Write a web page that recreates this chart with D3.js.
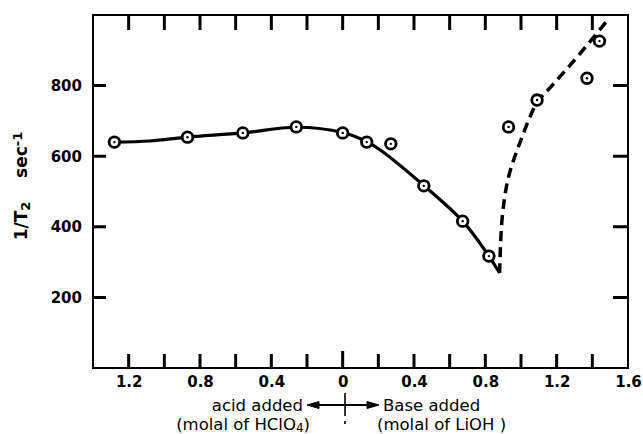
<!DOCTYPE html>
<html>
<head>
<meta charset="utf-8">
<script src="https://cdn.jsdelivr.net/npm/d3@7"></script>
<style>
  body { margin: 0; background: #fff; }
  svg { display: block; }
  .tick text { font-family: "DejaVu Sans", sans-serif; font-weight: bold; font-size: 15px; fill: #000; }
  .note { font-family: "DejaVu Sans", sans-serif; font-size: 16.5px; fill: #000; }
</style>
</head>
<body>
<script>
// measured points (acid side negative, base side positive)
const pointX = [-1.28, -0.87, -0.56, -0.26, 0.0, 0.135, 0.27, 0.455, 0.673, 0.82, 0.93, 1.09, 1.37, 1.44];
const pointY = [640, 654, 666, 683, 666, 640, 635, 516, 416, 317, 683, 759, 821, 926];

// solid drawn curve
const solidX = [-1.28, -1.08, -0.87, -0.56, -0.26, 0.0, 0.135, 0.213, 0.455, 0.673, 0.82, 0.88];
const solidY = [640, 643, 654, 666, 682, 667, 641, 617, 517, 416, 317, 269];

// dashed drawn curve
const dashX = [0.88, 0.895, 0.93, 1.0, 1.088, 1.17, 1.3, 1.48];
const dashY = [269, 428, 541, 646, 750, 798, 872, 982];

const xTicks = [-1.2, -1.0, -0.8, -0.6, -0.4, -0.2, 0, 0.2, 0.4, 0.6, 0.8, 1.0, 1.2, 1.4];
const xLabels = [-1.2, -0.8, -0.4, 0, 0.4, 0.8, 1.2, 1.6];
const yTicks = [200, 400, 600, 800];

const width = 643, height = 434;
const m = { left: 93, right: 628, top: 15, bottom: 368 };

const svg = d3.select('body').append('svg')
  .attr('width', width)
  .attr('height', height)
  .attr('viewBox', `0 0 ${width} ${height}`);

const x = d3.scaleLinear().domain([-1.4, 1.6]).range([m.left, m.right]);
const y = d3.scaleLinear().domain([0, 1000]).range([m.bottom, m.top]);

// axis labels only; tick marks drawn last, pointing inward
svg.append('g')
  .attr('transform', `translate(0,${m.bottom})`)
  .call(d3.axisBottom(x).tickValues(xLabels).tickSize(0).tickPadding(8).tickFormat(d => String(Math.abs(d))))
  .call(g => g.select('.domain').remove());

svg.append('g')
  .attr('transform', `translate(${m.left},0)`)
  .call(d3.axisLeft(y).tickValues(yTicks).tickSize(0).tickPadding(11))
  .call(g => g.select('.domain').remove());

svg.selectAll('g').attr('font-family', null).attr('font-size', null);

// frame
svg.append('rect')
  .attr('x', m.left).attr('y', m.top)
  .attr('width', m.right - m.left).attr('height', m.bottom - m.top)
  .attr('fill', 'none').attr('stroke', '#000').attr('stroke-width', 2);

const line = d3.line()
  .x(d => x(d[0]))
  .y(d => y(d[1]))
  .curve(d3.curveCatmullRom);

svg.append('path')
  .datum(solidX.map((v, i) => [v, solidY[i]]))
  .attr('d', line)
  .attr('fill', 'none')
  .attr('stroke', '#000')
  .attr('stroke-width', 3.2)
  .attr('stroke-linejoin', 'round');

svg.append('path')
  .datum(dashX.map((v, i) => [v, dashY[i]]))
  .attr('d', line)
  .attr('fill', 'none')
  .attr('stroke', '#000')
  .attr('stroke-width', 3.5)
  .attr('stroke-dasharray', '10,6');

// circled points
const pts = svg.append('g')
  .selectAll('g')
  .data(pointX.map((v, i) => [v, pointY[i]]))
  .enter()
  .append('g')
  .attr('transform', d => `translate(${x(d[0])},${y(d[1])})`);

pts.append('circle')
  .attr('r', 5.3)
  .attr('fill', '#fff')
  .attr('stroke', '#000')
  .attr('stroke-width', 2.8);

pts.append('circle')
  .attr('r', 1.2)
  .attr('fill', '#000');

// inward tick marks, on top of everything
const tickPath = d3.path();
xTicks.forEach(d => {
  tickPath.moveTo(x(d), m.bottom);
  tickPath.lineTo(x(d), m.bottom - (d === 0 ? 17 : 14));
  tickPath.moveTo(x(d), m.top);
  tickPath.lineTo(x(d), m.top + 15);
});
yTicks.forEach(d => {
  tickPath.moveTo(m.left, y(d));
  tickPath.lineTo(m.left + 13, y(d));
  tickPath.moveTo(m.right, y(d));
  tickPath.lineTo(m.right - 15, y(d));
});
svg.append('path')
  .attr('d', tickPath.toString())
  .attr('fill', 'none')
  .attr('stroke', '#000')
  .attr('stroke-width', 3);

// y label
svg.append('text')
  .attr('transform', 'translate(27,186) rotate(-90)')
  .attr('text-anchor', 'middle')
  .style('font-family', '"DejaVu Sans", sans-serif')
  .style('font-weight', 'bold')
  .style('font-size', '17px')
  .call(t => {
    t.append('tspan').text('1/T');
    t.append('tspan').attr('baseline-shift', '-25%').style('font-size', '13px').text('2');
    t.append('tspan').text('\u00a0\u00a0\u00a0\u00a0sec');
    t.append('tspan').attr('baseline-shift', '35%').style('font-size', '13px').text('-1');
  });

// bottom notes
svg.append('text').attr('class', 'note')
  .attr('x', 303).attr('y', 411).attr('text-anchor', 'end')
  .text('acid added');

svg.append('text').attr('class', 'note')
  .attr('x', 383).attr('y', 411)
  .text('Base added');

svg.append('text').attr('class', 'note')
  .attr('x', 310).attr('y', 430).attr('text-anchor', 'end')
  .call(t => {
    t.append('tspan').text('(molal of HClO');
    t.append('tspan').attr('baseline-shift', '-20%').style('font-size', '12px').text('4');
    t.append('tspan').text(')');
  });

svg.append('text').attr('class', 'note')
  .attr('x', 377).attr('y', 430)
  .text('(molal of LiOH )');

// double arrow with center bar
const arrow = svg.append('g').attr('stroke', '#000').attr('fill', '#000');
arrow.append('line')
  .attr('x1', 309).attr('x2', 376).attr('y1', 405).attr('y2', 405)
  .attr('stroke-width', 1.8);
arrow.append('path').attr('d', 'M307,405 L319,401.5 L319,408.5 Z');
arrow.append('path').attr('d', 'M379,405 L367,401.5 L367,408.5 Z');
arrow.append('line')
  .attr('x1', 345).attr('x2', 345).attr('y1', 393).attr('y2', 416)
  .attr('stroke-width', 1.6);
arrow.append('line')
  .attr('x1', 345).attr('x2', 345).attr('y1', 421).attr('y2', 424)
  .attr('stroke-width', 1.6);
</script>
</body>
</html>
